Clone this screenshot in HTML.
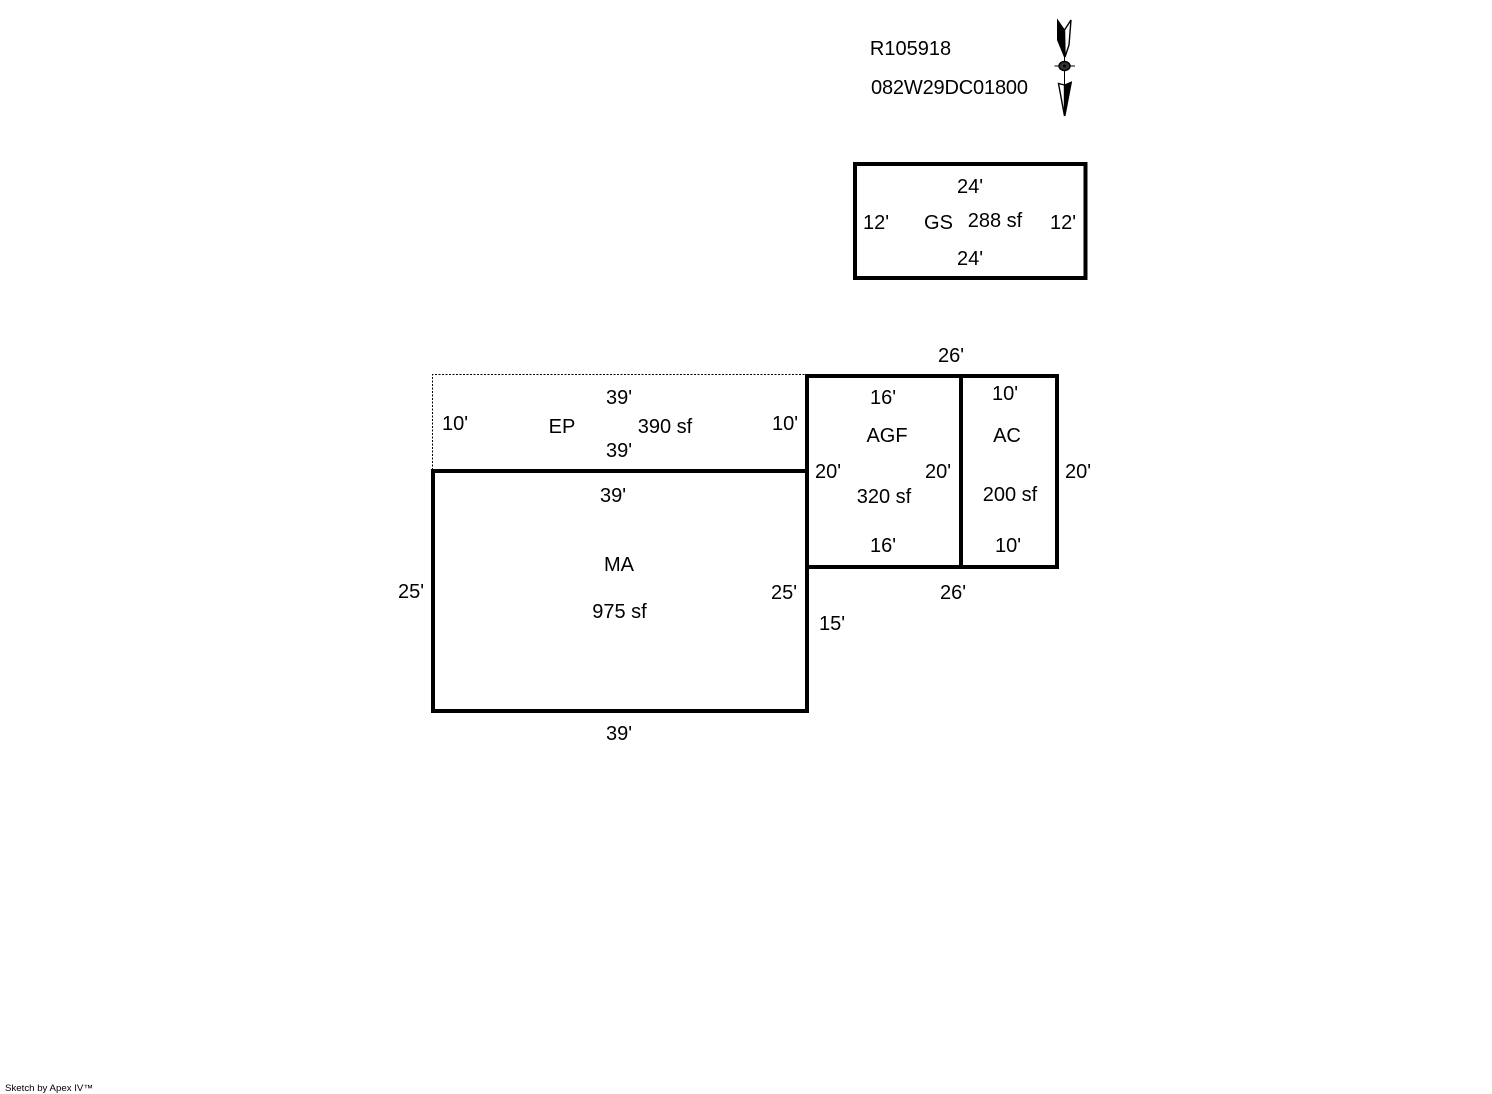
<!DOCTYPE html>
<html>
<head>
<meta charset="utf-8">
<style>
html,body{margin:0;padding:0;background:#fff;width:1492px;height:1094px;overflow:hidden}
svg{display:block}
text{font-family:"Liberation Sans",sans-serif;font-size:20px;fill:#000;text-anchor:middle}
</style>
</head>
<body>
<svg width="1492" height="1094" viewBox="0 0 1492 1094" xmlns="http://www.w3.org/2000/svg">
<rect width="1492" height="1094" fill="#fff"/>
<!-- EP dotted -->
<path d="M432.5 470V374.5H807" fill="none" stroke="#000" stroke-width="1" stroke-dasharray="2 1.5"/>
<!-- Thick rooms -->
<g fill="none" stroke="#000" stroke-width="4">
<rect x="855" y="164" width="230.5" height="114"/>
<rect x="433" y="471" width="374" height="240"/>
<rect x="807" y="376" width="154" height="191"/>
<rect x="961" y="376" width="96" height="191"/>
</g>
<!-- Compass -->
<polygon points="1057.5,20 1057.5,40 1064.5,57 1064.5,30" fill="#000" stroke="#000" stroke-width="1"/>
<polygon points="1064.5,30 1071,20 1069,45 1065,57" fill="#fff" stroke="#000" stroke-width="1.4"/>
<line x1="1064.5" y1="55" x2="1064.5" y2="116" stroke="#000" stroke-width="1"/>
<line x1="1054.5" y1="66" x2="1075" y2="66" stroke="#000" stroke-width="1"/>
<ellipse cx="1064.5" cy="66" rx="5.5" ry="4.5" fill="#333" stroke="#000" stroke-width="1.5"/>
<ellipse cx="1064.5" cy="66" rx="1.5" ry="1.5" fill="#000"/>
<polygon points="1058.5,83.5 1064.5,85 1064.5,116" fill="#fff" stroke="#000" stroke-width="1.4"/>
<polygon points="1064.5,85 1071.5,82 1065,116" fill="#000" stroke="#000" stroke-width="1"/>
<!-- Header -->
<text x="910.5" y="55">R105918</text>
<text x="949.5" y="94" textLength="157" lengthAdjust="spacing">082W29DC01800</text>
<!-- GS -->
<text x="970" y="193">24'</text>
<text x="876" y="229">12'</text>
<text x="938.5" y="229">GS</text>
<text x="995" y="227">288 sf</text>
<text x="1063" y="229">12'</text>
<text x="970" y="265">24'</text>
<!-- Top -->
<text x="951" y="362">26'</text>
<!-- EP -->
<text x="619" y="404">39'</text>
<text x="455" y="430">10'</text>
<text x="562" y="433">EP</text>
<text x="665" y="433">390 sf</text>
<text x="785" y="430">10'</text>
<text x="619" y="457">39'</text>
<!-- AGF -->
<text x="883" y="404">16'</text>
<text x="887" y="442">AGF</text>
<text x="828" y="478">20'</text>
<text x="938" y="478">20'</text>
<text x="884" y="503">320 sf</text>
<text x="883" y="552">16'</text>
<!-- AC -->
<text x="1005" y="400">10'</text>
<text x="1007" y="442">AC</text>
<text x="1078" y="478">20'</text>
<text x="1010" y="501">200 sf</text>
<text x="1008" y="552">10'</text>
<text x="953" y="599">26'</text>
<!-- MA -->
<text x="613" y="502">39'</text>
<text x="619" y="571">MA</text>
<text x="411" y="598">25'</text>
<text x="784" y="599">25'</text>
<text x="619.5" y="618">975 sf</text>
<text x="832" y="630">15'</text>
<text x="619" y="740">39'</text>
<!-- Footer -->
<text x="5" y="1091" style="font-size:9px;text-anchor:start" textLength="88" lengthAdjust="spacingAndGlyphs">Sketch by Apex IV™</text>
</svg>
</body>
</html>
